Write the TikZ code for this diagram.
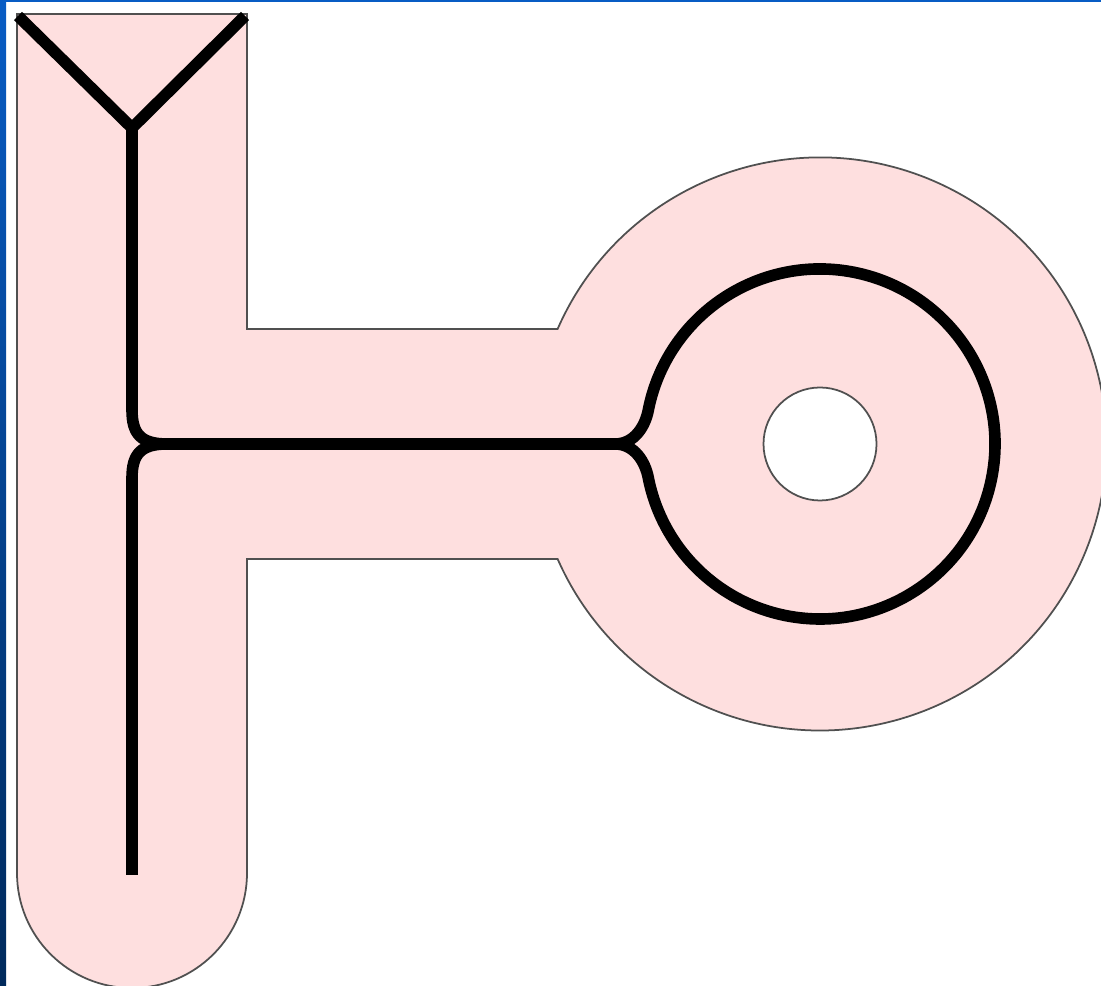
\documentclass[tikz,border=0pt]{standalone}
\usepackage{tikz}
\definecolor{skinpink}{RGB}{254,223,223}
\definecolor{edgegray}{RGB}{80,80,80}
\definecolor{slidetop}{RGB}{8,92,196}
\definecolor{slidebot}{RGB}{0,42,92}

\begin{document}
\begin{tikzpicture}[x=0.01cm,y=0.01cm,
  body/.style={fill=skinpink,draw=edgegray,line width=0.5pt},
  nerve/.style={draw=black,line width=3.3pt}]
\useasboundingbox (0,0) rectangle (1101,986);
% slide edge
\shade[top color=slidetop,bottom color=slidebot] (0,0) rectangle (6,986);
\fill[slidetop] (0,984) rectangle (1101,986);
% outline of the body
\path[body] (17,972) -- (247,972) -- (247,657) -- (557.6,657)
  arc[start angle=156.34,end angle=-156.34,radius=286.5]
  -- (247,427) -- (247,113) arc[start angle=0,end angle=-180,radius=115]
  -- cycle;
\draw[edgegray,line width=0.5pt,fill=white] (820,542) circle[radius=56.5];
% the Y at the top
\coordinate (yl) at (18,970);
\coordinate (yr) at (245,970);
\coordinate (yfork) at (132,858);
\draw[nerve] (yl) -- (yfork) -- (yr);
% left junction
\coordinate (jl) at (167,542);
\coordinate (jr) at (615,542);
\draw[nerve] (yfork) -- (132,576) .. controls (132,552) and (141,542) .. (jl);
\draw[nerve] (132,111) -- (132,508) .. controls (132,532) and (141,542) .. (jl);
\draw[nerve] (jl) -- (jr);
% the ring
\draw[nerve] (jr) .. controls (635,542) and (645.3,560.7) .. (648.2,575.4)
  arc[start angle=169,end angle=-169,radius=175]
  .. controls (645.3,523.3) and (635,542) .. (jr);
\end{tikzpicture}
\end{document}
